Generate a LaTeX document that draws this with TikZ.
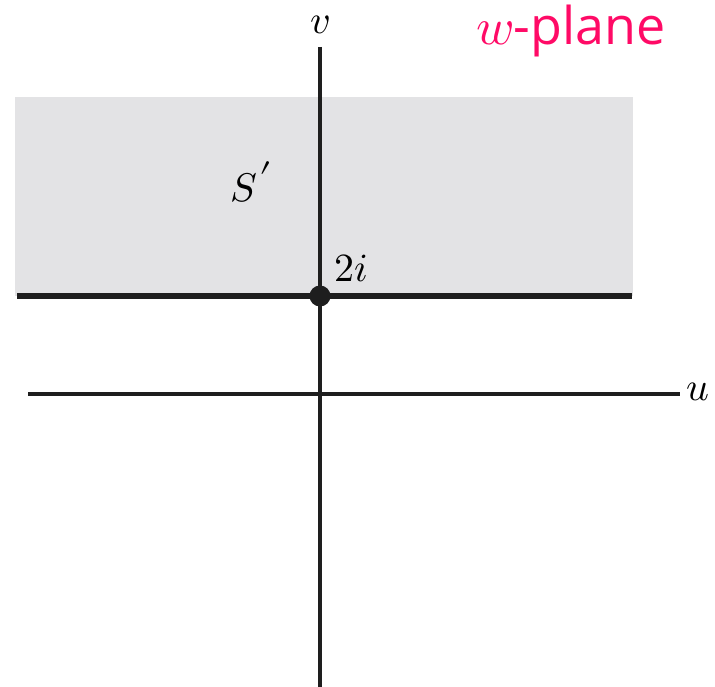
\documentclass[tikz,border=0pt]{standalone}
\usepackage{fontspec}
\usepackage{unicode-math}
\setmathfont{Latin Modern Math}
\newfontfamily\planefont{Open Sans}
\definecolor{regiongray}{HTML}{E3E3E5}
\definecolor{planepink}{HTML}{FF0A66}
\definecolor{axisblack}{HTML}{1E1E1E}
\begin{document}
\begin{tikzpicture}[x=1pt,y=-1pt,
  axis/.style={line width=3.2pt,draw=axisblack},
  boundary/.style={line width=6pt,draw=axisblack},
  mathlabel/.style={font=\fontsize{40}{44}\selectfont,inner sep=0pt}]
\useasboundingbox (0,0) rectangle (715,687);
\fill[regiongray] (15,97) rectangle (633,296);
\coordinate (hl) at (28,394);
\coordinate (hr) at (680,394);
\coordinate (vt) at (320,47);
\coordinate (vb) at (320,687);
\coordinate (bl) at (17,296);
\coordinate (br) at (632,296);
\draw[axis] (hl) -- (hr);
\draw[axis] (vt) -- (vb);
\draw[boundary] (bl) -- (br);
\node[circle,fill=axisblack,minimum size=21pt,inner sep=0pt] (pt) at (320,296) {};
\node[mathlabel] (vlab) at (320,25) {$v$};
\node[mathlabel] (ulab) at (698,392) {$u$};
\node[mathlabel] (twoi) at (351,268) {$2i$};
\node[mathlabel] (slab) at (251,182) {$S\mkern1mu\raisebox{0.55ex}{$\prime$}$};
\node[inner sep=0pt,text=planepink,font=\fontsize{52}{56}\selectfont] (title) at (571,31) {$w$\planefont -plane};
\end{tikzpicture}
\end{document}
